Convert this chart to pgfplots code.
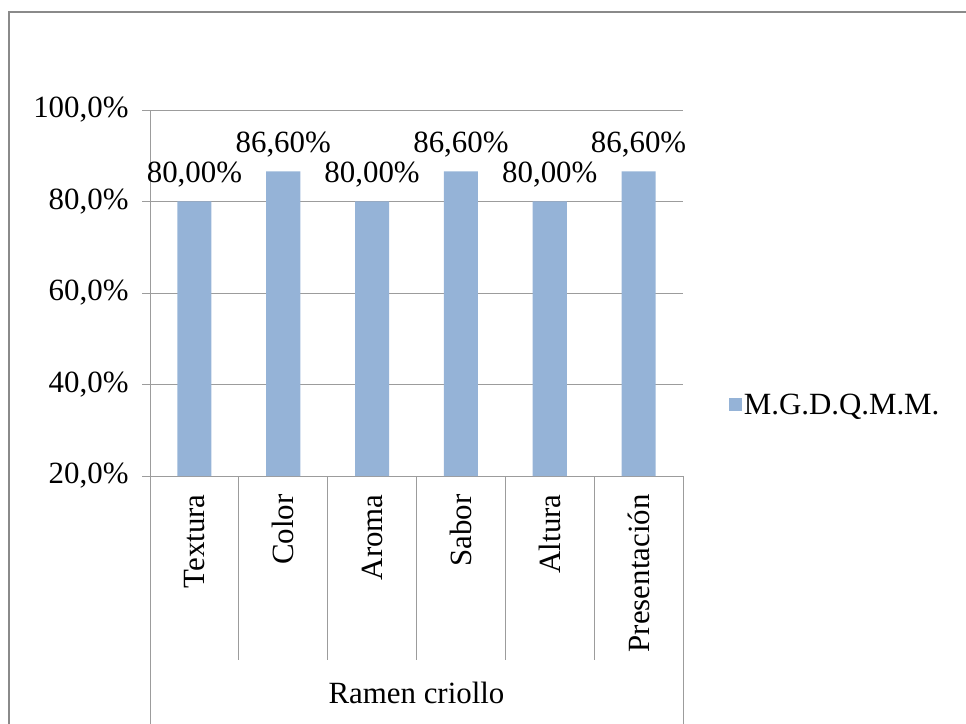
\documentclass[border=0pt]{standalone}
\usepackage{pgfplots}
\pgfplotsset{compat=1.18}
\usepackage{fontspec}
\setmainfont{Liberation Serif}
\definecolor{barblue}{HTML}{95B3D7}
\definecolor{linegray}{HTML}{9C9C9C}
\definecolor{framegray}{HTML}{8A8A8A}
\begin{document}
\begin{tikzpicture}[font=\fontsize{31}{37}\selectfont]
\useasboundingbox (0,0) rectangle (966bp,724bp);
\draw[framegray, line width=2.5bp] (9bp,-5bp) -- (9bp,712bp) -- (975bp,712bp);
\begin{axis}[
  at={(150bp,248bp)}, anchor=south west,
  scale only axis, width=533bp, height=366bp,
  clip=false,
  /pgf/number format/assume math mode=true,
  ymin=20, ymax=100, ytick={20,40,60,80,100},
  xmin=0, xmax=6,
  axis x line=bottom, axis y line=left,
  axis line style={linegray, line width=0.8bp, -},
  every tick/.style={linegray, line width=0.8bp},
  tick align=outside,
  major tick length=8bp,
  ymajorgrids, grid style={linegray, line width=0.8bp},
  yticklabel={\pgfmathprintnumber[fixed,fixed zerofill,precision=1,use comma]{\tick}\%},
  yticklabel style={xshift=-10bp},
  xtick={0.5,1.5,2.5,3.5,4.5,5.5},
  xticklabels={Textura,Color,Aroma,Sabor,Altura,Presentación},
  x tick style={draw=none},
  xticklabel style={rotate=90, anchor=east, xshift=-7bp},
  xlabel={Ramen criollo},
  xlabel style={at={(axis description cs:0.5,0)}, anchor=center, yshift=-217bp},
  ybar, bar width=0.383,
  nodes near coords={\pgfmathprintnumber[fixed,fixed zerofill,precision=2,use comma]{\pgfplotspointmeta}\%},
  nodes near coords style={anchor=south, font=\fontsize{31}{37}\selectfont, inner sep=4bp, yshift=10bp},
  legend style={at={(rel axis cs:1.08,0.194)}, anchor=west, draw=none, fill=none, font=\fontsize{31}{37}\selectfont},
  legend image code/.code={\fill[barblue] (0bp,-6.5bp) rectangle (13bp,6.5bp);},
]
\addplot[fill=barblue, draw=none] coordinates {(0.5,80) (1.5,86.6) (2.5,80) (3.5,86.6) (4.5,80) (5.5,86.6)};
\addlegendentry{M.G.D.Q.M.M.}
\draw[linegray, line width=0.8bp] (axis cs:1,20) -- ([yshift=-184bp]axis cs:1,20);
\draw[linegray, line width=0.8bp] (axis cs:2,20) -- ([yshift=-184bp]axis cs:2,20);
\draw[linegray, line width=0.8bp] (axis cs:3,20) -- ([yshift=-184bp]axis cs:3,20);
\draw[linegray, line width=0.8bp] (axis cs:4,20) -- ([yshift=-184bp]axis cs:4,20);
\draw[linegray, line width=0.8bp] (axis cs:5,20) -- ([yshift=-184bp]axis cs:5,20);
\draw[linegray, line width=0.8bp] (axis cs:0,20) -- ([yshift=-250bp]axis cs:0,20);
\draw[linegray, line width=0.8bp] (axis cs:6,20) -- ([yshift=-250bp]axis cs:6,20);
\end{axis}
\end{tikzpicture}
\end{document}
